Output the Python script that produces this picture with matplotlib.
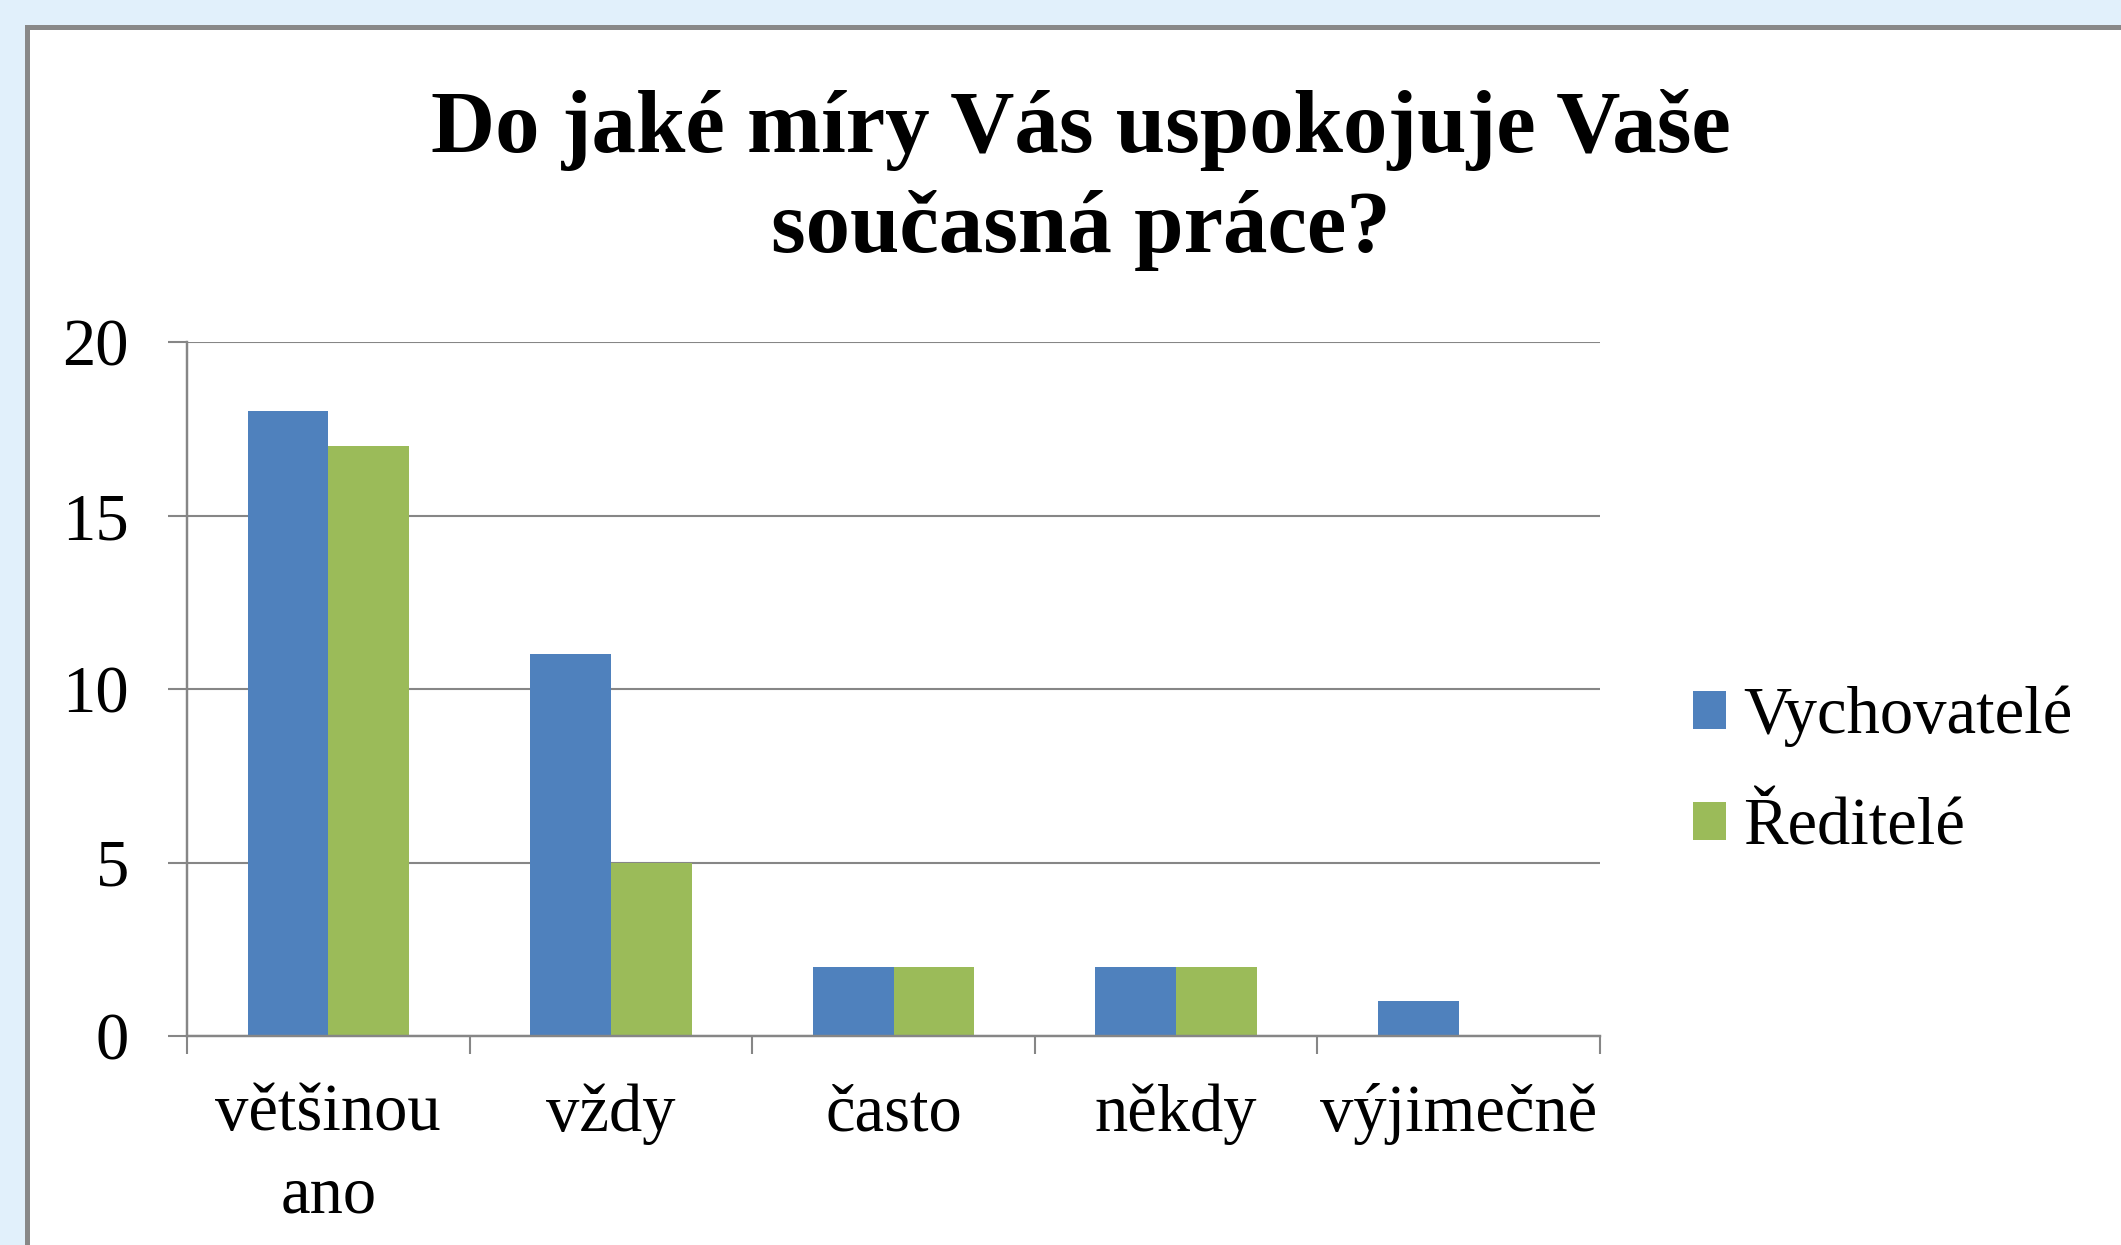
import matplotlib
matplotlib.use("Agg")
import matplotlib.pyplot as plt
from matplotlib.patches import Rectangle
import numpy as np

categories = ["většinou\nano", "vždy", "často", "někdy", "výjimečně"]
series_names = ["Vychovatelé", "Ředitelé"]
vychovatele = [18, 11, 2, 2, 1]
reditele = [17, 5, 2, 2, 0]
yticks = [0, 5, 10, 15, 20]
title_lines = ["Do jaké míry Vás uspokojuje Vaše", "současná práce?"]

W, H = 2121, 1245
DPI = 100
plt.rcParams['font.family'] = ['Liberation Serif', 'DejaVu Serif']

fig = plt.figure(figsize=(W / DPI, H / DPI), dpi=DPI, facecolor="#E1F0FB")

# white chart panel with gray border
panel = Rectangle((26.5 / W, -0.05), 1.1, (H - 26.5) / H + 0.05,
                  transform=fig.transFigure, facecolor="white",
                  edgecolor="#888888", linewidth=5 * 72 / DPI, zorder=0)
fig.add_artist(panel)

ax = fig.add_axes([187 / W, 1 - 1036 / H, (1600 - 187) / W, (1036 - 342) / H])
ax.set_facecolor("none")

n = len(categories)
x = np.arange(n)
bw = 1 / 3.5
ax.bar(x - bw / 2, vychovatele, width=bw, color="#4F81BD", label=series_names[0], zorder=3)
ax.bar(x + bw / 2, reditele, width=bw, color="#9BBB59", label=series_names[1], zorder=3)

ax.set_xlim(-0.5, n - 0.5)
ax.set_ylim(0, 20)

gray = "#868686"
fs = 48
ax.set_yticks(yticks)
ax.set_yticklabels([str(v) for v in yticks], fontsize=fs)
ax.tick_params(axis='y', length=19 * 72 / DPI, width=1.5, color=gray, pad=28, labelcolor='black')
ax.set_xticks(x)
ax.set_xticklabels(categories, fontsize=fs, linespacing=1.45)
ax.tick_params(axis='x', which='major', length=0, pad=13 + 21)
ax.set_xticks(np.arange(n + 1) - 0.5, minor=True)
ax.tick_params(axis='x', which='minor', length=18 * 72 / DPI, width=1.5, color=gray)

ax.grid(axis='y', color=gray, linewidth=1.5, zorder=1)
ax.set_axisbelow(True)
for s in ["top", "right"]:
    ax.spines[s].set_visible(False)
for s in ["left", "bottom"]:
    ax.spines[s].set_color(gray)
    ax.spines[s].set_linewidth(1.75)
    ax.spines[s].set_zorder(4)

# title
fig.text(1081 / W, 1 - 152 / H, title_lines[0], ha='center', va='baseline',
         fontsize=64, fontweight='bold')
fig.text(1081 / W, 1 - 252 / H, title_lines[1], ha='center', va='baseline',
         fontsize=64, fontweight='bold')

leg = ax.legend(loc='center left', bbox_to_anchor=(1693 / W, 1 - 772 / H),
                bbox_transform=fig.transFigure, frameon=False, fontsize=fs,
                handlelength=0.5, handleheight=0.5, handletextpad=0.25,
                labelspacing=0.75, borderpad=0, borderaxespad=0)

fig.savefig("out.png", dpi=DPI, facecolor=fig.get_facecolor())
